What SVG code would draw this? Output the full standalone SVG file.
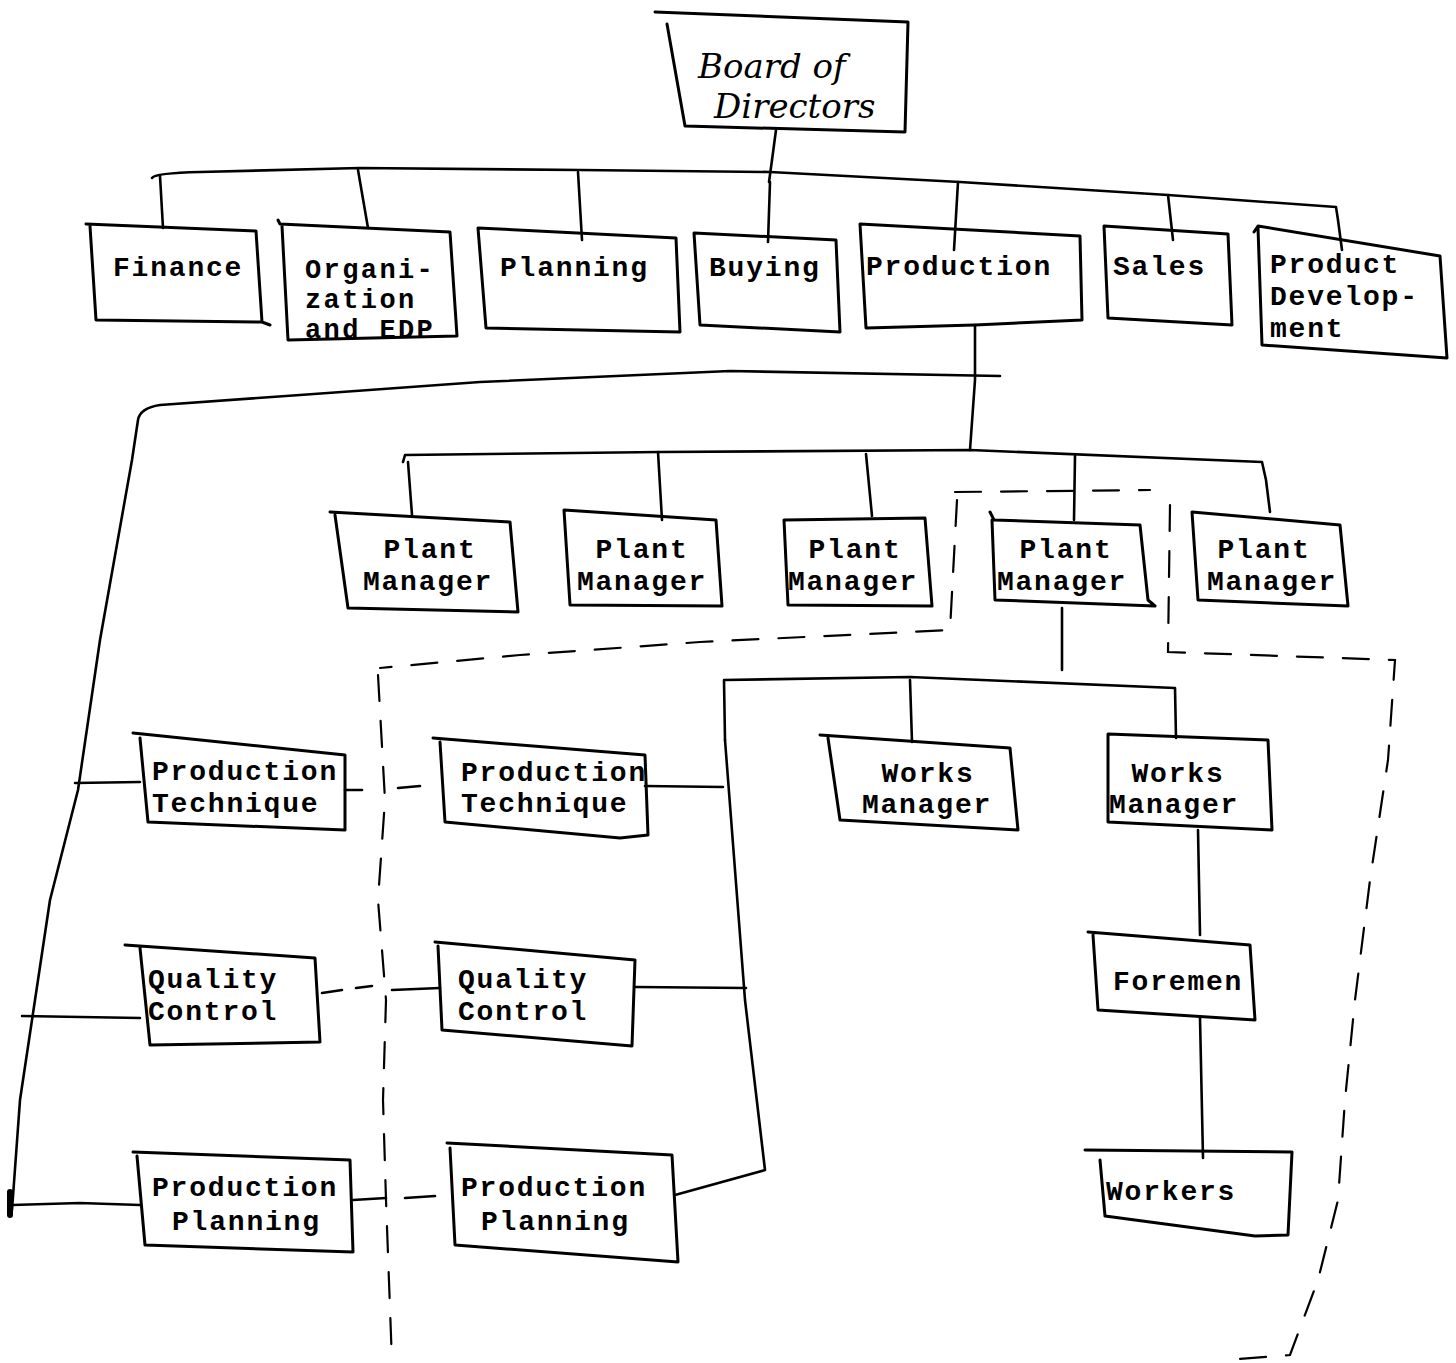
<svg xmlns="http://www.w3.org/2000/svg" width="1456" height="1363" viewBox="0 0 1456 1363">
  <style>
    .bx { fill: none; stroke: #000; stroke-width: 3; stroke-linejoin: round; stroke-linecap: round; }
    .ln { fill: none; stroke: #000; stroke-width: 2.6; stroke-linejoin: round; stroke-linecap: round; }
    .ds { fill: none; stroke: #000; stroke-width: 2.2; stroke-linecap: round; stroke-dasharray: 26 20; }
    .tw { font-family: "Liberation Mono", "DejaVu Sans Mono", monospace; font-weight: bold; font-size: 28px; letter-spacing: 1.8px; fill: #000; }
    .tight { font-size: 27px; letter-spacing: 2.4px; }
    .mid { text-anchor: middle; }
    .hand { font-family: "DejaVu Serif", "Liberation Serif", serif; font-style: italic; font-size: 34px; fill: #000; }
  </style>
  <rect width="1456" height="1363" fill="#fff"/>

  <!-- connectors -->
  <g id="connectors">
    <!-- board to top bus -->
    <path class="ln" d="M776,130 L772,160 L769,182"/>
    <!-- top bus -->
    <path class="ln" d="M152,178 Q155,173 200,172 L360,168 L580,170 L770,172 L960,182 L1168,195 L1336,207 L1338,220 L1342,250"/>
    <path class="ln" d="M160,176 L163,228"/>
    <path class="ln" d="M358,170 L368,228"/>
    <path class="ln" d="M578,172 L582,240"/>
    <path class="ln" d="M770,182 L768,242"/>
    <path class="ln" d="M958,182 L954,250"/>
    <path class="ln" d="M1168,195 L1173,240"/>
    <!-- production down to plant bus -->
    <path class="ln" d="M975,325 L975,380 L970,450"/>
    <!-- staff line from production to the left side -->
    <path class="ln" d="M1000,376 L730,371 L480,382 L300,395 L160,405 Q140,408 138,420 L132,460 L100,640 L78,790 L50,900 L20,1100 L12,1210"/>
    <path class="ln" d="M10,1192 L10,1215" style="stroke-width:6"/>
    <!-- plant manager bus -->
    <path class="ln" d="M403,462 L405,455 L660,452 L970,450 L1262,462 L1266,480 L1270,512"/>
    <path class="ln" d="M408,462 L412,515"/>
    <path class="ln" d="M658,452 L662,520"/>
    <path class="ln" d="M866,454 L872,516"/>
    <path class="ln" d="M1075,456 L1074,520"/>
    <!-- plant manager to works bus -->
    <path class="ln" d="M1062,608 L1062,670"/>
    <path class="ln" d="M725,740 L724,680 L910,677 L1175,688 L1176,738"/>
    <path class="ln" d="M910,680 L912,742"/>
    <path class="ln" d="M725,740 L745,1000 L765,1170 L675,1195"/>
    <!-- works manager to foremen to workers -->
    <path class="ln" d="M1198,830 L1200,935"/>
    <path class="ln" d="M1200,1018 L1203,1158"/>
    <!-- technique row -->
    <path class="ln" d="M75,783 L140,782"/>
    <path class="ln" d="M345,790 L362,790"/>
    <path class="ln" d="M398,788 L420,786"/>
    <path class="ln" d="M645,786 L723,787"/>
    <!-- quality row -->
    <path class="ln" d="M22,1016 L140,1018"/>
    <path class="ln" d="M322,993 L342,990"/>
    <path class="ln" d="M356,988 L372,986"/>
    <path class="ln" d="M392,990 L440,988"/>
    <path class="ln" d="M636,987 L746,988"/>
    <!-- planning row -->
    <path class="ln" d="M12,1205 L80,1203 L140,1205"/>
    <path class="ln" d="M353,1200 L386,1198"/>
    <path class="ln" d="M405,1198 L435,1196"/>

    <!-- dashed boundaries -->
    <path class="ds" d="M955,492 L1150,490"/>
    <path class="ds" d="M957,500 L950,630 L700,642 L520,655 L380,668"/>
    <path class="ds" d="M378,675 L385,800 L378,900 L386,1000 L383,1100 L386,1200 L392,1363"/>
    <path class="ds" d="M1170,505 L1168,652 L1395,660 L1388,760 L1370,880 L1355,1000 L1345,1100 L1338,1200 L1318,1280 L1290,1355 L1225,1360"/>
  </g>

  <!-- Board of Directors -->
  <g id="board">
    <path class="bx" d="M655,12 L908,22 L905,132 L685,126 L667,24"/>
    <text class="hand" x="698" y="78">Board of</text>
    <text class="hand" x="714" y="118">Directors</text>
  </g>

  <!-- top level departments -->
  <g id="finance">
    <path class="bx" d="M86,224 L256,231 L262,322 L270,325 M90,226 L96,320 L262,322"/>
    <text class="tw" x="113" y="276">Finance</text>
  </g>
  <g id="organization">
    <path class="bx" d="M278,220 L280,224 L450,232 L457,336 L288,340 L282,226"/>
    <text class="tw tight" x="305" y="278">Organi-</text>
    <text class="tw tight" x="305" y="308">zation</text>
    <text class="tw tight" x="305" y="338">and EDP</text>
  </g>
  <g id="planning">
    <path class="bx" d="M478,228 L676,238 L680,332 L486,328 Z"/>
    <text class="tw" x="500" y="276">Planning</text>
  </g>
  <g id="buying">
    <path class="bx" d="M694,233 L836,240 L840,332 L700,325 Z"/>
    <text class="tw" x="709" y="276">Buying</text>
  </g>
  <g id="production">
    <path class="bx" d="M860,224 L1080,236 L1082,320 L975,325 L866,328 Z"/>
    <text class="tw" x="866" y="275">Production</text>
  </g>
  <g id="sales">
    <path class="bx" d="M1104,226 L1228,234 L1232,325 L1108,318 Z"/>
    <text class="tw" x="1113" y="275">Sales</text>
  </g>
  <g id="product-development">
    <path class="bx" d="M1254,232 L1258,226 L1440,256 L1447,358 L1262,345 L1258,228"/>
    <text class="tw" x="1270" y="273">Product</text>
    <text class="tw" x="1270" y="305">Develop-</text>
    <text class="tw" x="1270" y="337">ment</text>
  </g>

  <!-- plant managers -->
  <g id="plant-manager-1">
    <path class="bx" d="M330,512 L510,522 L518,612 L348,608 L335,515"/>
    <text class="tw mid" x="430" y="558">Plant</text>
    <text class="tw mid" x="428" y="590">Manager</text>
  </g>
  <g id="plant-manager-2">
    <path class="bx" d="M564,510 L716,520 L722,606 L570,605 Z"/>
    <text class="tw mid" x="642" y="558">Plant</text>
    <text class="tw mid" x="642" y="590">Manager</text>
  </g>
  <g id="plant-manager-3">
    <path class="bx" d="M784,520 L925,518 L932,606 L788,605 Z"/>
    <text class="tw mid" x="855" y="558">Plant</text>
    <text class="tw mid" x="853" y="590">Manager</text>
  </g>
  <g id="plant-manager-4">
    <path class="bx" d="M990,512 L994,520 L1140,525 L1148,600 L1155,606 L995,600 L992,520"/>
    <text class="tw mid" x="1066" y="558">Plant</text>
    <text class="tw mid" x="1062" y="590">Manager</text>
  </g>
  <g id="plant-manager-5">
    <path class="bx" d="M1192,512 L1340,525 L1348,606 L1198,600 Z"/>
    <text class="tw mid" x="1264" y="558">Plant</text>
    <text class="tw mid" x="1272" y="590">Manager</text>
  </g>

  <!-- works organisation -->
  <g id="works-manager-1">
    <path class="bx" d="M820,735 L1010,748 L1018,830 L840,820 L828,738"/>
    <text class="tw mid" x="928" y="782">Works</text>
    <text class="tw mid" x="927" y="813">Manager</text>
  </g>
  <g id="works-manager-2">
    <path class="bx" d="M1108,734 L1268,740 L1272,830 L1108,822 Z"/>
    <text class="tw mid" x="1178" y="782">Works</text>
    <text class="tw mid" x="1174" y="813">Manager</text>
  </g>
  <g id="foremen">
    <path class="bx" d="M1088,932 L1250,945 L1255,1020 L1098,1010 L1093,935"/>
    <text class="tw" x="1113" y="990">Foremen</text>
  </g>
  <g id="workers">
    <path class="bx" d="M1085,1150 L1292,1152 L1288,1235 L1255,1236 L1105,1216 L1100,1160"/>
    <text class="tw" x="1106" y="1200">Workers</text>
  </g>

  <!-- staff functions, left plant -->
  <g id="production-technique-1">
    <path class="bx" d="M133,733 L345,755 L345,830 L148,822 L140,738"/>
    <text class="tw" x="152" y="780">Production</text>
    <text class="tw" x="152" y="812">Technique</text>
  </g>
  <g id="quality-control-1">
    <path class="bx" d="M125,945 L315,958 L320,1042 L150,1045 L140,948"/>
    <text class="tw" x="148" y="988">Quality</text>
    <text class="tw" x="148" y="1020">Control</text>
  </g>
  <g id="production-planning-1">
    <path class="bx" d="M133,1152 L350,1160 L353,1252 L145,1245 L137,1156"/>
    <text class="tw" x="152" y="1196">Production</text>
    <text class="tw" x="172" y="1230">Planning</text>
  </g>

  <!-- staff functions, second plant -->
  <g id="production-technique-2">
    <path class="bx" d="M433,738 L645,755 L648,835 L620,838 L445,822 L440,742"/>
    <text class="tw" x="461" y="781">Production</text>
    <text class="tw" x="461" y="812">Technique</text>
  </g>
  <g id="quality-control-2">
    <path class="bx" d="M435,942 L635,960 L632,1046 L442,1030 L438,946"/>
    <text class="tw" x="458" y="988">Quality</text>
    <text class="tw" x="458" y="1020">Control</text>
  </g>
  <g id="production-planning-2">
    <path class="bx" d="M447,1143 L672,1155 L678,1262 L455,1245 L450,1148"/>
    <text class="tw" x="461" y="1196">Production</text>
    <text class="tw" x="481" y="1230">Planning</text>
  </g>
</svg>
